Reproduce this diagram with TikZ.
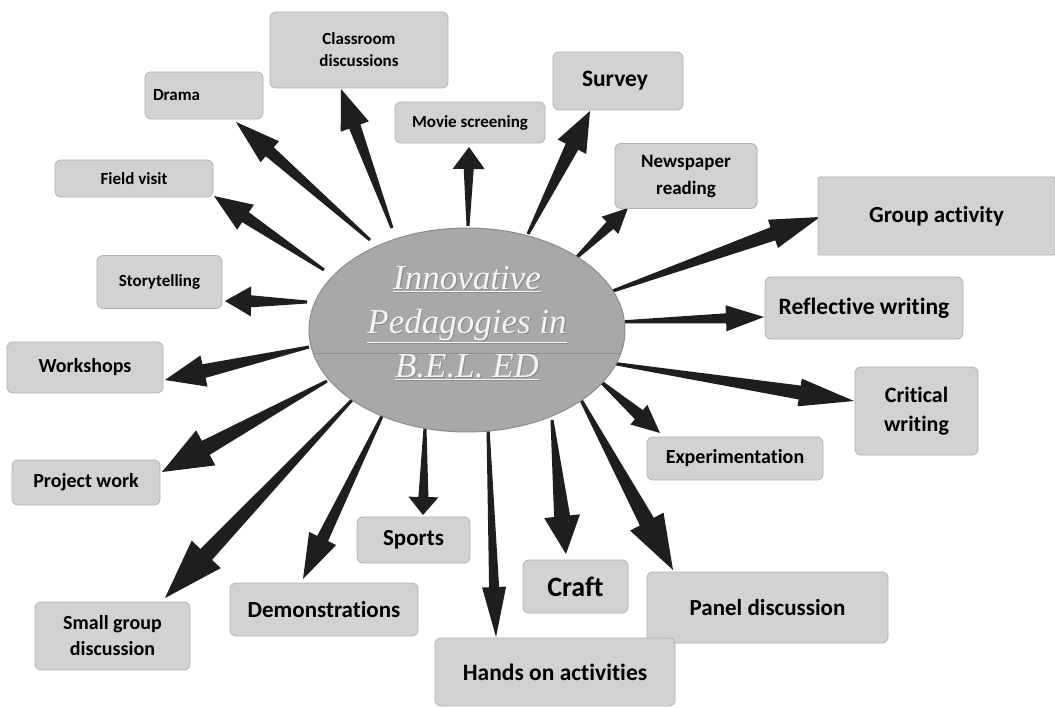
\documentclass[tikz,border=0pt]{standalone}
\usepackage{fontspec}
\setmainfont{Carlito}[Ligatures={NoCommon}, RawFeature={-liga;-calt;-clig;-dlig}]
\newfontfamily\ellfont{Liberation Serif}
\usetikzlibrary{calc,shapes.geometric}
\definecolor{boxgray}{RGB}{210,210,210}
\definecolor{boxedge}{RGB}{178,178,178}
\definecolor{ellgray}{RGB}{168,168,168}
\definecolor{elledge}{RGB}{140,140,140}
\definecolor{arrowcol}{RGB}{30,30,30}
\definecolor{titlecol}{RGB}{245,245,245}
\newcommand\fsz[2]{\fontsize{#1}{#2}\selectfont}
\tikzset{
  box/.style={draw=boxedge, line width=0.8pt, fill=boxgray, rounded corners=6pt,
    align=center, inner sep=0pt, text=black},
  arrowfill/.style={fill=arrowcol},
}
% #1 tail, #2 tip, #3 head length, #4 head half width, #5 shaft half width at head, #6 tail half width
\newcommand\fatarrow[6]{%
  \coordinate (fabase) at ($(#2)!#3pt!(#1)$);
  \fill[arrowfill] ($(#1)!#6pt!90:(#2)$) -- ($(fabase)!#5pt!90:(#2)$) --
    ($(fabase)!#4pt!90:(#2)$) -- (#2) -- ($(fabase)!#4pt!-90:(#2)$) --
    ($(fabase)!#5pt!-90:(#2)$) -- ($(#1)!#6pt!-90:(#2)$) -- cycle;
}
\begin{document}
\begin{tikzpicture}[x=1pt,y=-1pt]
\useasboundingbox (0,0) rectangle (1055,708);
\fill[white] (0,0) rectangle (1055,708);

% ---- arrow end points ----
\coordinate (tDrama) at (370,240);  \coordinate (pDrama) at (236,122);
\coordinate (tCls) at (392,228);    \coordinate (pCls) at (341,89);
\coordinate (tMovie) at (468,226);  \coordinate (pMovie) at (469,147);
\coordinate (tSurvey) at (528,234); \coordinate (pSurvey) at (590,111);
\coordinate (tNews) at (575,259);   \coordinate (pNews) at (628,208);
\coordinate (tGroup) at (610,292);  \coordinate (pGroup) at (820,217);
\coordinate (tField) at (324,270);  \coordinate (pField) at (214,196);
\coordinate (tStory) at (307,302);  \coordinate (pStory) at (225,301);
\coordinate (tRefl) at (620,322);   \coordinate (pRefl) at (764,317);
\coordinate (tWork) at (309,347);   \coordinate (pWork) at (165,380);
\coordinate (tCrit) at (611,363);   \coordinate (pCrit) at (854,401);
\coordinate (tExp) at (600,381);    \coordinate (pExp) at (660,433);
\coordinate (tProj) at (327,381);   \coordinate (pProj) at (162,472);
\coordinate (tSmall) at (352,400);  \coordinate (pSmall) at (165,598);
\coordinate (tDemo) at (383,414);   \coordinate (pDemo) at (303,579);
\coordinate (tSports) at (425,428); \coordinate (pSports) at (423,515);
\coordinate (tHands) at (488,428);  \coordinate (pHands) at (496,637);
\coordinate (tCraft) at (552,420);  \coordinate (pCraft) at (566,554);
\coordinate (tPanel) at (580,398);  \coordinate (pPanel) at (673,570);

% ---- arrows ----
\fatarrow{tDrama}{pDrama}{45}{14}{6}{1.5}
\fatarrow{tCls}{pCls}{40}{15}{6}{1.5}
\fatarrow{tMovie}{pMovie}{22}{16}{5}{1.5}
\fatarrow{tSurvey}{pSurvey}{40}{16}{7}{1.5}
\fatarrow{tNews}{pNews}{25}{12}{5}{1.5}
\fatarrow{tGroup}{pGroup}{50}{15}{7}{1.5}
\fatarrow{tField}{pField}{38}{15}{6}{1.5}
\fatarrow{tStory}{pStory}{26}{15}{6}{1.5}
\fatarrow{tRefl}{pRefl}{38}{13}{5}{1.5}
\fatarrow{tWork}{pWork}{40}{16}{7}{1.5}
\fatarrow{tCrit}{pCrit}{55}{14}{7}{1.5}
\fatarrow{tExp}{pExp}{28}{13}{6}{1.5}
\fatarrow{tProj}{pProj}{50}{20}{8}{1.5}
\fatarrow{tSmall}{pSmall}{60}{20}{8}{1.5}
\fatarrow{tDemo}{pDemo}{45}{15}{6}{1.5}
\fatarrow{tSports}{pSports}{18}{15}{5}{1.5}
\fatarrow{tHands}{pHands}{50}{12}{5}{1.5}
\fatarrow{tCraft}{pCraft}{38}{18}{8}{1.5}
\fatarrow{tPanel}{pPanel}{55}{19}{8}{1.5}

% ---- central ellipse ----
\node[ellipse, draw=elledge, line width=1pt, fill=ellgray, minimum width=316pt,
      minimum height=204pt, inner sep=0pt] (ell) at (467,330) {};
\begin{scope}
  \clip (467,330) ellipse [x radius=157pt, y radius=101pt];
  \draw[black!55, line width=0.8pt, opacity=0.5] (300,353) -- (640,353);
\end{scope}
\node[text=black!45, align=center, font={\ellfont\itshape\fsz{35}{44}}] (titleshadow) at (468.2,324.2)
  {\underline{Innovative}\\\underline{Pedagogies in}\\\underline{B.E.L. ED}};
\node[text=titlecol, align=center, font={\ellfont\itshape\fsz{35}{44}}] (title) at (467,323)
  {\underline{Innovative}\\\underline{Pedagogies in}\\\underline{B.E.L. ED}};

% ---- boxes ----
\node[box, minimum width=178pt, minimum height=76pt, font={\bfseries\fsz{17}{22}}] (cls) at (359,50) {Classroom\\discussions};
\node[box, text width=102pt, inner xsep=8pt, minimum height=47pt, align=left, font={\bfseries\fsz{17}{21}}] (drama) at (204,95.5) {Drama};
\node[box, minimum width=150pt, minimum height=41pt, font={\bfseries\fsz{17}{21}}] (movie) at (470,122.5) {Movie screening};
\node[box, text width=72pt, inner xsep=29pt, minimum height=58pt, align=left, font={\bfseries\fsz{23.5}{27}}] (survey) at (618,81) {Survey};
\node[box, minimum width=142pt, minimum height=65pt, font={\bfseries\fsz{19}{27}}] (news) at (686,176) {Newspaper\\reading};
\node[box, rounded corners=2pt, minimum width=237pt, minimum height=78pt, font={\bfseries\fsz{23}{27}}] (group) at (936.5,216) {Group activity};
\node[box, minimum width=158pt, minimum height=37pt, font={\bfseries\fsz{17}{21}}] (field) at (134,178.5) {Field visit};
\node[box, minimum width=125pt, minimum height=53pt, font={\bfseries\fsz{17}{21}}] (story) at (159.5,282) {Storytelling};
\node[box, minimum width=198pt, minimum height=62pt, font={\bfseries\fsz{23.5}{27}}] (refl) at (864,308) {Reflective writing};
\node[box, minimum width=156pt, minimum height=51pt, font={\bfseries\fsz{20}{24}}] (work) at (85,367.5) {Workshops};
\node[box, minimum width=123pt, minimum height=88pt, font={\bfseries\fsz{22}{29}}] (crit) at (916.5,411) {Critical\\writing};
\node[box, minimum width=176pt, minimum height=43pt, font={\bfseries\fsz{20}{24}}] (exp) at (735,458.5) {Experimentation};
\node[box, minimum width=148pt, minimum height=45pt, font={\bfseries\fsz{20}{24}}] (proj) at (86,482.5) {Project work};
\node[box, minimum width=113pt, minimum height=46pt, font={\bfseries\fsz{23}{27}}] (sports) at (413.5,540) {Sports};
\node[box, minimum width=105pt, minimum height=53pt, font={\bfseries\fsz{28}{32}}] (craft) at (575.5,586.5) {Craft};
\node[box, minimum width=241pt, minimum height=71pt, font={\bfseries\fsz{23}{27}}] (panel) at (767.5,607.5) {Panel discussion};
\node[box, minimum width=188pt, minimum height=53pt, font={\bfseries\fsz{23}{27}}] (demo) at (324,609.5) {Demonstrations};
\node[box, minimum width=155pt, minimum height=68pt, font={\bfseries\fsz{20}{26}}] (small) at (112.5,636) {Small group\\discussion};
\node[box, minimum width=240pt, minimum height=68pt, font={\bfseries\fsz{23.5}{27}}] (hands) at (555,672) {Hands on activities};
\end{tikzpicture}
\end{document}
